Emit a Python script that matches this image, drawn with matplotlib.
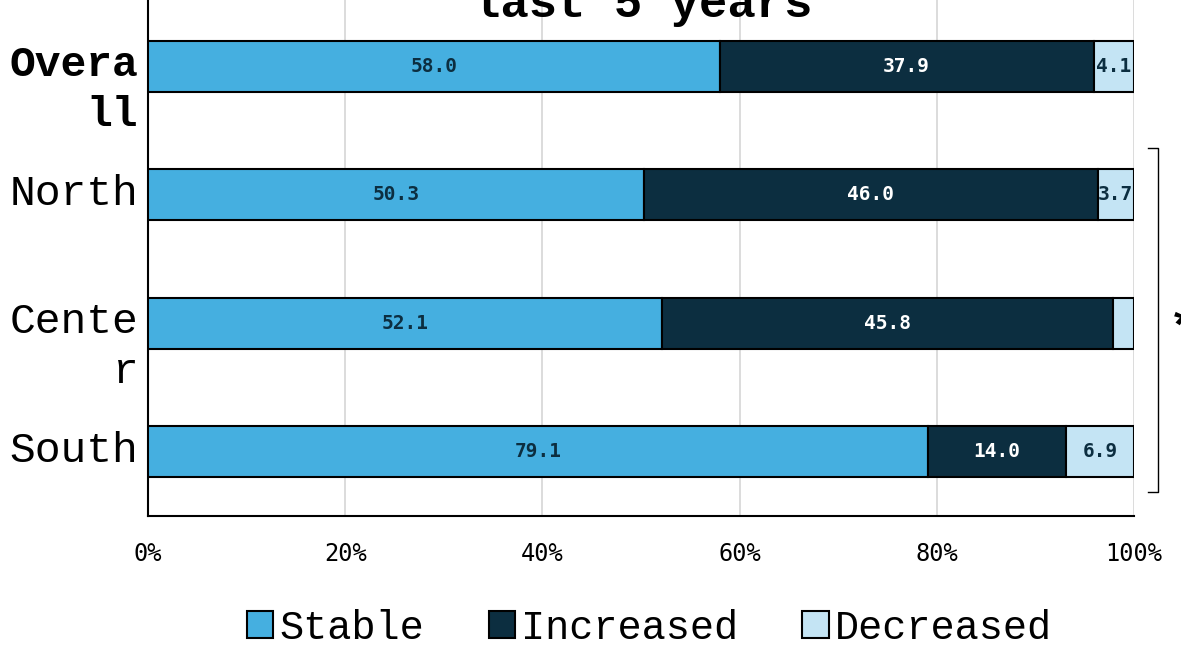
import numpy as np
import matplotlib
matplotlib.use('Agg')
import matplotlib.pyplot as plt
import matplotlib.transforms as mtransforms

# data
regions = ['Overa\nll', 'North', 'Cente\nr', 'South']
series = ['Stable', 'Increased', 'Decreased']
stable = [58.0, 50.3, 52.1, 79.1]
increased = [37.9, 46.0, 45.8, 14.0]
decreased = [4.1, 3.7, 2.1, 6.9]
show_label = [[True, True, True, True],
              [True, True, True, True],
              [True, True, False, True]]  # decreased label hidden for Center
xticks = [0, 20, 40, 60, 80, 100]
xticklabels = ['0%', '20%', '40%', '60%', '80%', '100%']

colors = ['#45afe0', '#0c2e40', '#c4e4f4']
text_colors = ['#0c2e40', 'white', '#0c2e40']
mono = 'Liberation Mono'
mono2 = 'DejaVu Sans Mono'

fig = plt.figure(figsize=(11.81, 6.48), dpi=100)
ax = fig.add_axes([148/1181, 1-516/648, (1134-148)/1181, 516/648])

y = np.arange(len(regions))
left = np.zeros(len(regions))
for k, vals in enumerate([stable, increased, decreased]):
	bars = ax.barh(y, vals, left=left, height=0.4, color=colors[k],
	               edgecolor='black', linewidth=1.5, label=series[k], zorder=3)
	for i, b in enumerate(bars):
		if not show_label[k][i]:
			continue
		t = ax.text(left[i] + vals[i]/2, y[i], '%.1f' % vals[i], ha='center', va='center',
		            color=text_colors[k], fontsize=14, fontweight='bold', family=mono2, zorder=4)
		t.set_clip_path(b)
	left = left + np.array(vals)

ax.set_xlim(0, 100)
ax.set_ylim(3.5, 3.5 - 516/128.5)
ax.set_xticks(xticks)
ax.set_xticklabels(xticklabels, family=mono2, fontsize=17)
ax.tick_params(axis='x', length=0, pad=19)
ax.tick_params(axis='y', length=0, pad=7)
ax.grid(axis='x', color='#d9d9d9', linewidth=1.3, zorder=0)
ax.set_axisbelow(True)
for s in ['top', 'right']:
	ax.spines[s].set_visible(False)
ax.spines['left'].set_linewidth(1.5)
ax.spines['bottom'].set_linewidth(1.5)

ax.set_yticks(y)
ax.set_yticklabels(regions, family=mono, fontsize=31, linespacing=1.32)
offset = mtransforms.ScaledTranslation(0, 0.21, fig.dpi_scale_trans)
for i, tl in enumerate(ax.get_yticklabels()):
	tl.set_va('top')
	tl.set_transform(tl.get_transform() + offset)
	if i == 0:
		tl.set_fontweight('bold')

# bracket over the regions
ax.plot([101.4, 102.4, 102.4, 101.4], [0.64, 0.64, 3.31, 3.31], color='black',
        linewidth=1, clip_on=False)
ax.text(103.5, 2.05, '*', fontsize=34, family=mono, fontweight='bold',
        ha='left', va='center', clip_on=False)

# title cut off at the top
fig.text(0.5435, 1 - 5/648, 'last 5 years', ha='center', va='center',
         fontsize=34, fontweight='bold', family=mono)

fig.legend(loc='center', bbox_to_anchor=(0.55, 1 - 628/648), ncol=3, frameon=False,
           prop={'family': mono, 'size': 29}, handlelength=0.65, handleheight=0.65,
           handletextpad=0.15, columnspacing=1.6)

fig.savefig('out.png', dpi=100)
